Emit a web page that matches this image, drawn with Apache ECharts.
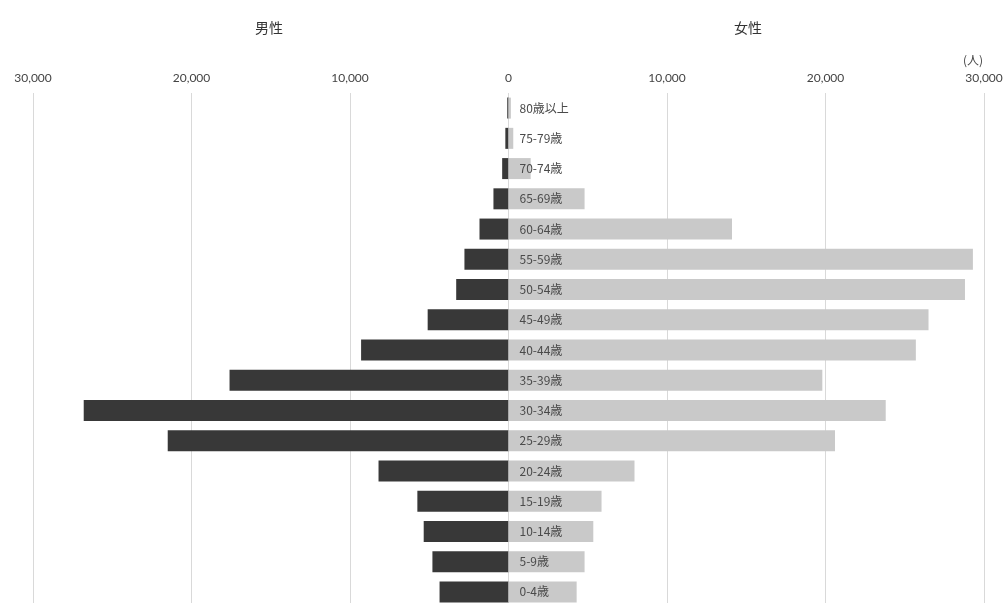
<!DOCTYPE html>
<html>
<head>
    <meta charset="utf-8">
    <title>人口ピラミッド</title>
    <script src="https://cdn.jsdelivr.net/npm/echarts@6/dist/echarts.min.js"></script>
    <style>
        html, body { margin: 0; padding: 0; background: #fff; overflow: hidden; }
        #main { width: 1007px; height: 607px; }
    </style>
</head>
<body>
    <div id="main"></div>
    <script type="text/javascript">
        // age groups, top to bottom
        var ageGroups = ['80歳以上', '75-79歳', '70-74歳', '65-69歳', '60-64歳', '55-59歳', '50-54歳',
            '45-49歳', '40-44歳', '35-39歳', '30-34歳', '25-29歳', '20-24歳', '15-19歳',
            '10-14歳', '5-9歳', '0-4歳'];
        var maleValues = [80, 200, 400, 950, 1830, 2780, 3300, 5100, 9300, 17600, 26800, 21500,
            8200, 5750, 5350, 4800, 4350];
        var femaleValues = [150, 300, 1400, 4800, 14100, 29300, 28800, 26500, 25700, 19800, 23800,
            20600, 7950, 5870, 5350, 4800, 4300];
        var axisTicks = [-30000, -20000, -10000, 0, 10000, 20000, 30000];

        var myChart = echarts.init(document.getElementById('main'));

        var option = {
            animation: false,
            backgroundColor: '#ffffff',
            textStyle: { fontFamily: '"Noto Sans CJK JP", sans-serif' },
            title: [
                { text: '男性', left: 264, top: 16, textAlign: 'center',
                  textStyle: { fontSize: 14, fontWeight: 'normal', color: '#333' } },
                { text: '女性', left: 743, top: 16, textAlign: 'center',
                  textStyle: { fontSize: 14, fontWeight: 'normal', color: '#333' } },
                { text: '(人)', left: 968, top: 49, textAlign: 'center',
                  textStyle: { fontSize: 12, fontWeight: 'normal', color: '#444' } }
            ],
            grid: { left: 33, right: 23, top: 93, bottom: 0, containLabel: false },
            xAxis: {
                type: 'value',
                position: 'top',
                min: axisTicks[0],
                max: axisTicks[axisTicks.length - 1],
                interval: 10000,
                axisLine: { show: false },
                axisTick: { show: false },
                axisLabel: {
                    margin: 9,
                    fontSize: 12,
                    color: '#444',
                    fontFamily: 'Lato, sans-serif',
                    formatter: function (v) { return Math.abs(v).toLocaleString('en-US'); }
                },
                splitLine: { show: true, lineStyle: { color: '#d9d9d9', width: 1 } }
            },
            yAxis: {
                type: 'category',
                data: ageGroups,
                inverse: true,
                axisLine: { show: false },
                axisTick: { show: false },
                axisLabel: { show: false }
            },
            series: [
                {
                    name: '男性',
                    type: 'bar',
                    data: maleValues.map(function (v) { return -v; }),
                    barWidth: 21,
                    barGap: '-100%',
                    itemStyle: { color: '#383838' }
                },
                {
                    name: '女性',
                    type: 'bar',
                    data: femaleValues,
                    barWidth: 21,
                    barGap: '-100%',
                    itemStyle: { color: '#c9c9c9' },
                    label: {
                        show: true,
                        position: 'insideLeft',
                        distance: 11,
                        fontSize: 12,
                        color: '#4a4a4a',
                        formatter: function (p) { return p.name; }
                    }
                }
            ]
        };

        myChart.setOption(option);
    </script>
</body>
</html>
